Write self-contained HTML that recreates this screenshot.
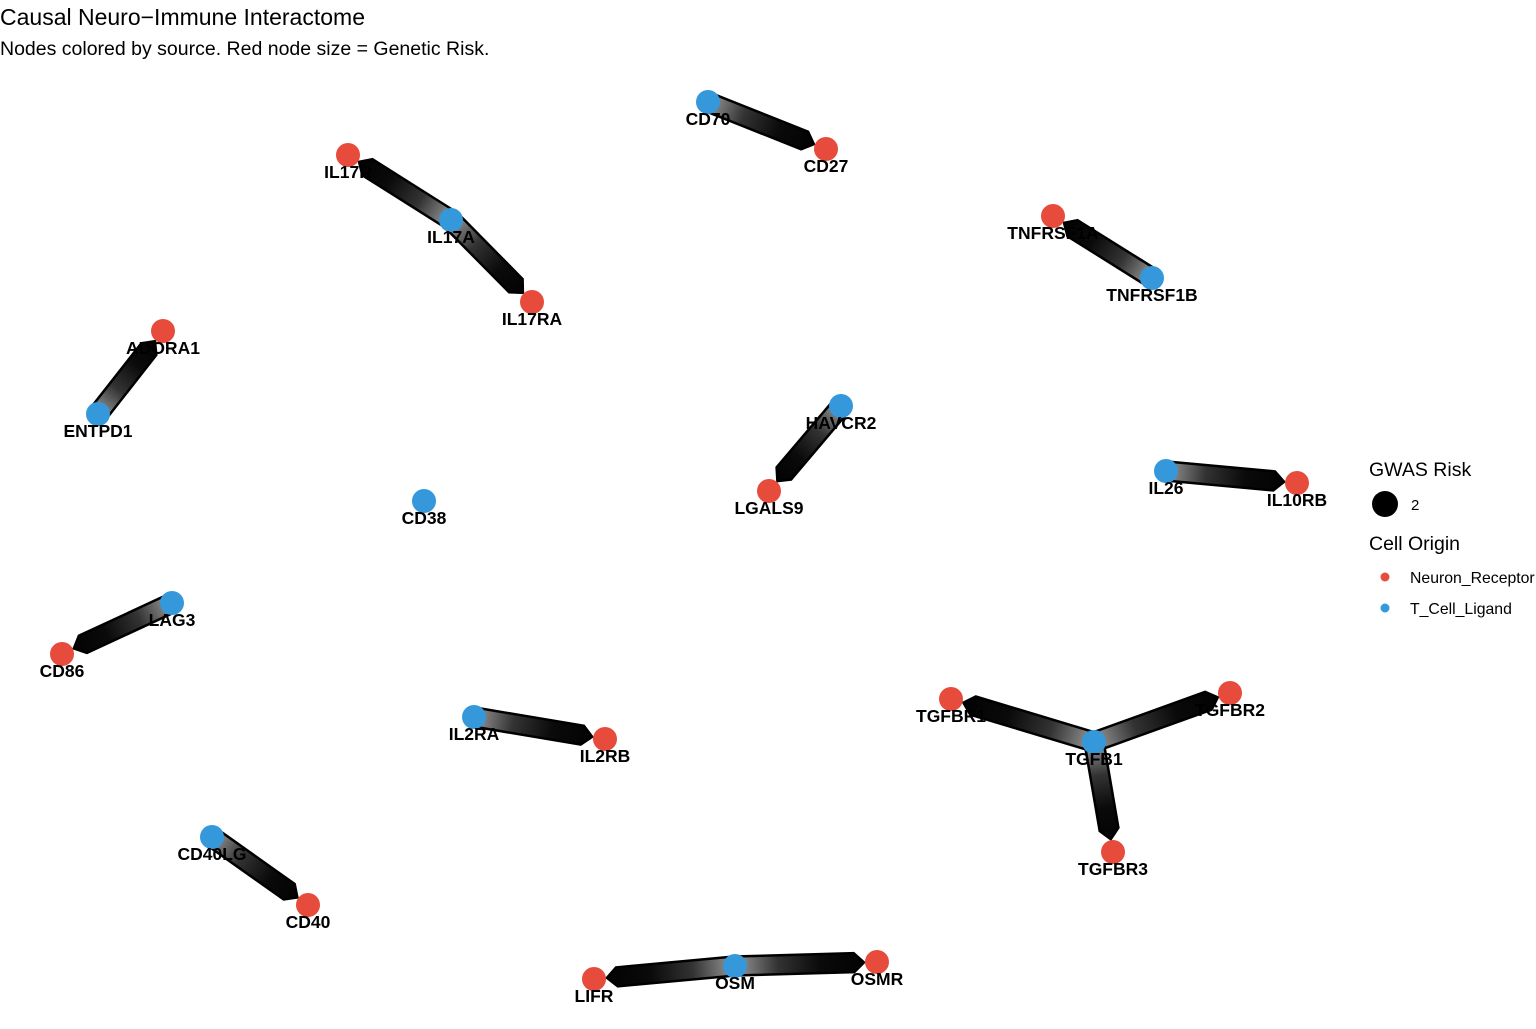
<!DOCTYPE html>
<html><head><meta charset="utf-8">
<style>
html,body{margin:0;padding:0;background:#fff;}
body{width:1536px;height:1024px;overflow:hidden;font-family:"Liberation Sans",Arial,sans-serif;}
</style></head>
<body>
<svg id="s" width="1536" height="1024" xmlns="http://www.w3.org/2000/svg" font-family="Liberation Sans, Arial, sans-serif">
<text x="0" y="25" font-size="23" fill="#000">Causal Neuro−Immune Interactome</text>
<text x="0" y="55" font-size="19.5" fill="#000">Nodes colored by source. Red node size = Genetic Risk.</text>
<g id="edges"></g>
<g id="nodes"></g>
<g id="labels" font-weight="bold" font-size="17.5" text-anchor="middle" fill="#000"></g>
<text x="1369" y="476" font-size="19.5">GWAS Risk</text>
<circle cx="1385" cy="504" r="13" fill="#000"/>
<text x="1411" y="510" font-size="15">2</text>
<text x="1369" y="550" font-size="19.5">Cell Origin</text>
<circle cx="1385" cy="577" r="4.5" fill="#E64B3C"/>
<text x="1410" y="583" font-size="15.8">Neuron_Receptor</text>
<circle cx="1385" cy="608" r="4.5" fill="#3498DB"/>
<text x="1410" y="614" font-size="15.8">T_Cell_Ligand</text>
</svg>
<script>
var N={CD70:[708,102,'b'],CD27:[826,149,'r'],IL17R:[348,155,'r'],IL17A:[451,220,'b'],IL17RA:[532,302,'r'],
TNFRSF1A:[1053,216,'r'],TNFRSF1B:[1152,278,'b'],ADORA1:[163,331,'r'],ENTPD1:[98,414,'b'],
HAVCR2:[841,406,'b'],LGALS9:[769,491,'r'],IL26:[1166,471,'b'],IL10RB:[1297,483,'r'],CD38:[424,501,'b'],
LAG3:[172,603,'b'],CD86:[62,654,'r'],IL2RA:[474,717,'b'],IL2RB:[605,739,'r'],TGFBR1:[951,699,'r'],
TGFBR2:[1230,693,'r'],TGFB1:[1094,742,'b'],TGFBR3:[1113,852,'r'],CD40LG:[212,837,'b'],CD40:[308,905,'r'],
LIFR:[594,979,'r'],OSM:[735,966,'b'],OSMR:[877,962,'r']};
var E=[['CD70','CD27'],['IL17A','IL17R'],['IL17A','IL17RA'],['TNFRSF1B','TNFRSF1A'],['ENTPD1','ADORA1'],
['HAVCR2','LGALS9'],['IL26','IL10RB'],['LAG3','CD86'],['IL2RA','IL2RB'],['TGFB1','TGFBR1'],['TGFB1','TGFBR2'],
['TGFB1','TGFBR3'],['CD40LG','CD40'],['OSM','LIFR'],['OSM','OSMR']];
var ns='http://www.w3.org/2000/svg',eg=document.getElementById('edges'),ng=document.getElementById('nodes'),lg=document.getElementById('labels');
var defs=document.createElementNS(ns,'defs');document.getElementById('s').insertBefore(defs,eg);
E.forEach(function(e,i){var a=N[e[0]],b=N[e[1]];var dx=b[0]-a[0],dy=b[1]-a[1],L=Math.hypot(dx,dy),ux=dx/L,uy=dy/L,px=-uy,py=ux;
var w=9.5,end=L-13,tip=10;
var P=function(t,o){return (a[0]+ux*t+px*o).toFixed(1)+','+(a[1]+uy*t+py*o).toFixed(1);};
var id='g'+i;var gr=document.createElementNS(ns,'linearGradient');gr.setAttribute('id',id);gr.setAttribute('gradientUnits','userSpaceOnUse');
gr.setAttribute('x1',a[0]);gr.setAttribute('y1',a[1]);gr.setAttribute('x2',b[0]);gr.setAttribute('y2',b[1]);
gr.innerHTML='<stop offset="0" stop-color="#9a9a9a"/><stop offset="0.3" stop-color="#333"/><stop offset="0.6" stop-color="#0a0a0a"/><stop offset="1" stop-color="#000"/>';
defs.appendChild(gr);
var pts=[P(0,w),P(end-tip,w),P(end,0),P(end-tip,-w),P(0,-w)].join(' ');
var poly=document.createElementNS(ns,'polygon');
poly.setAttribute('points',pts);
poly.setAttribute('fill','url(#'+id+')');poly.setAttribute('stroke','#000');poly.setAttribute('stroke-width','2.5');eg.appendChild(poly);
});
for(var k in N){var n=N[k];var c=document.createElementNS(ns,'circle');c.setAttribute('cx',n[0]);c.setAttribute('cy',n[1]);c.setAttribute('r',12);
c.setAttribute('fill',n[2]=='r'?'#E64B3C':'#3498DB');ng.appendChild(c);
var t=document.createElementNS(ns,'text');t.setAttribute('x',n[0]);t.setAttribute('y',n[1]+23);t.textContent=k;lg.appendChild(t);}
</script>
</body></html>
